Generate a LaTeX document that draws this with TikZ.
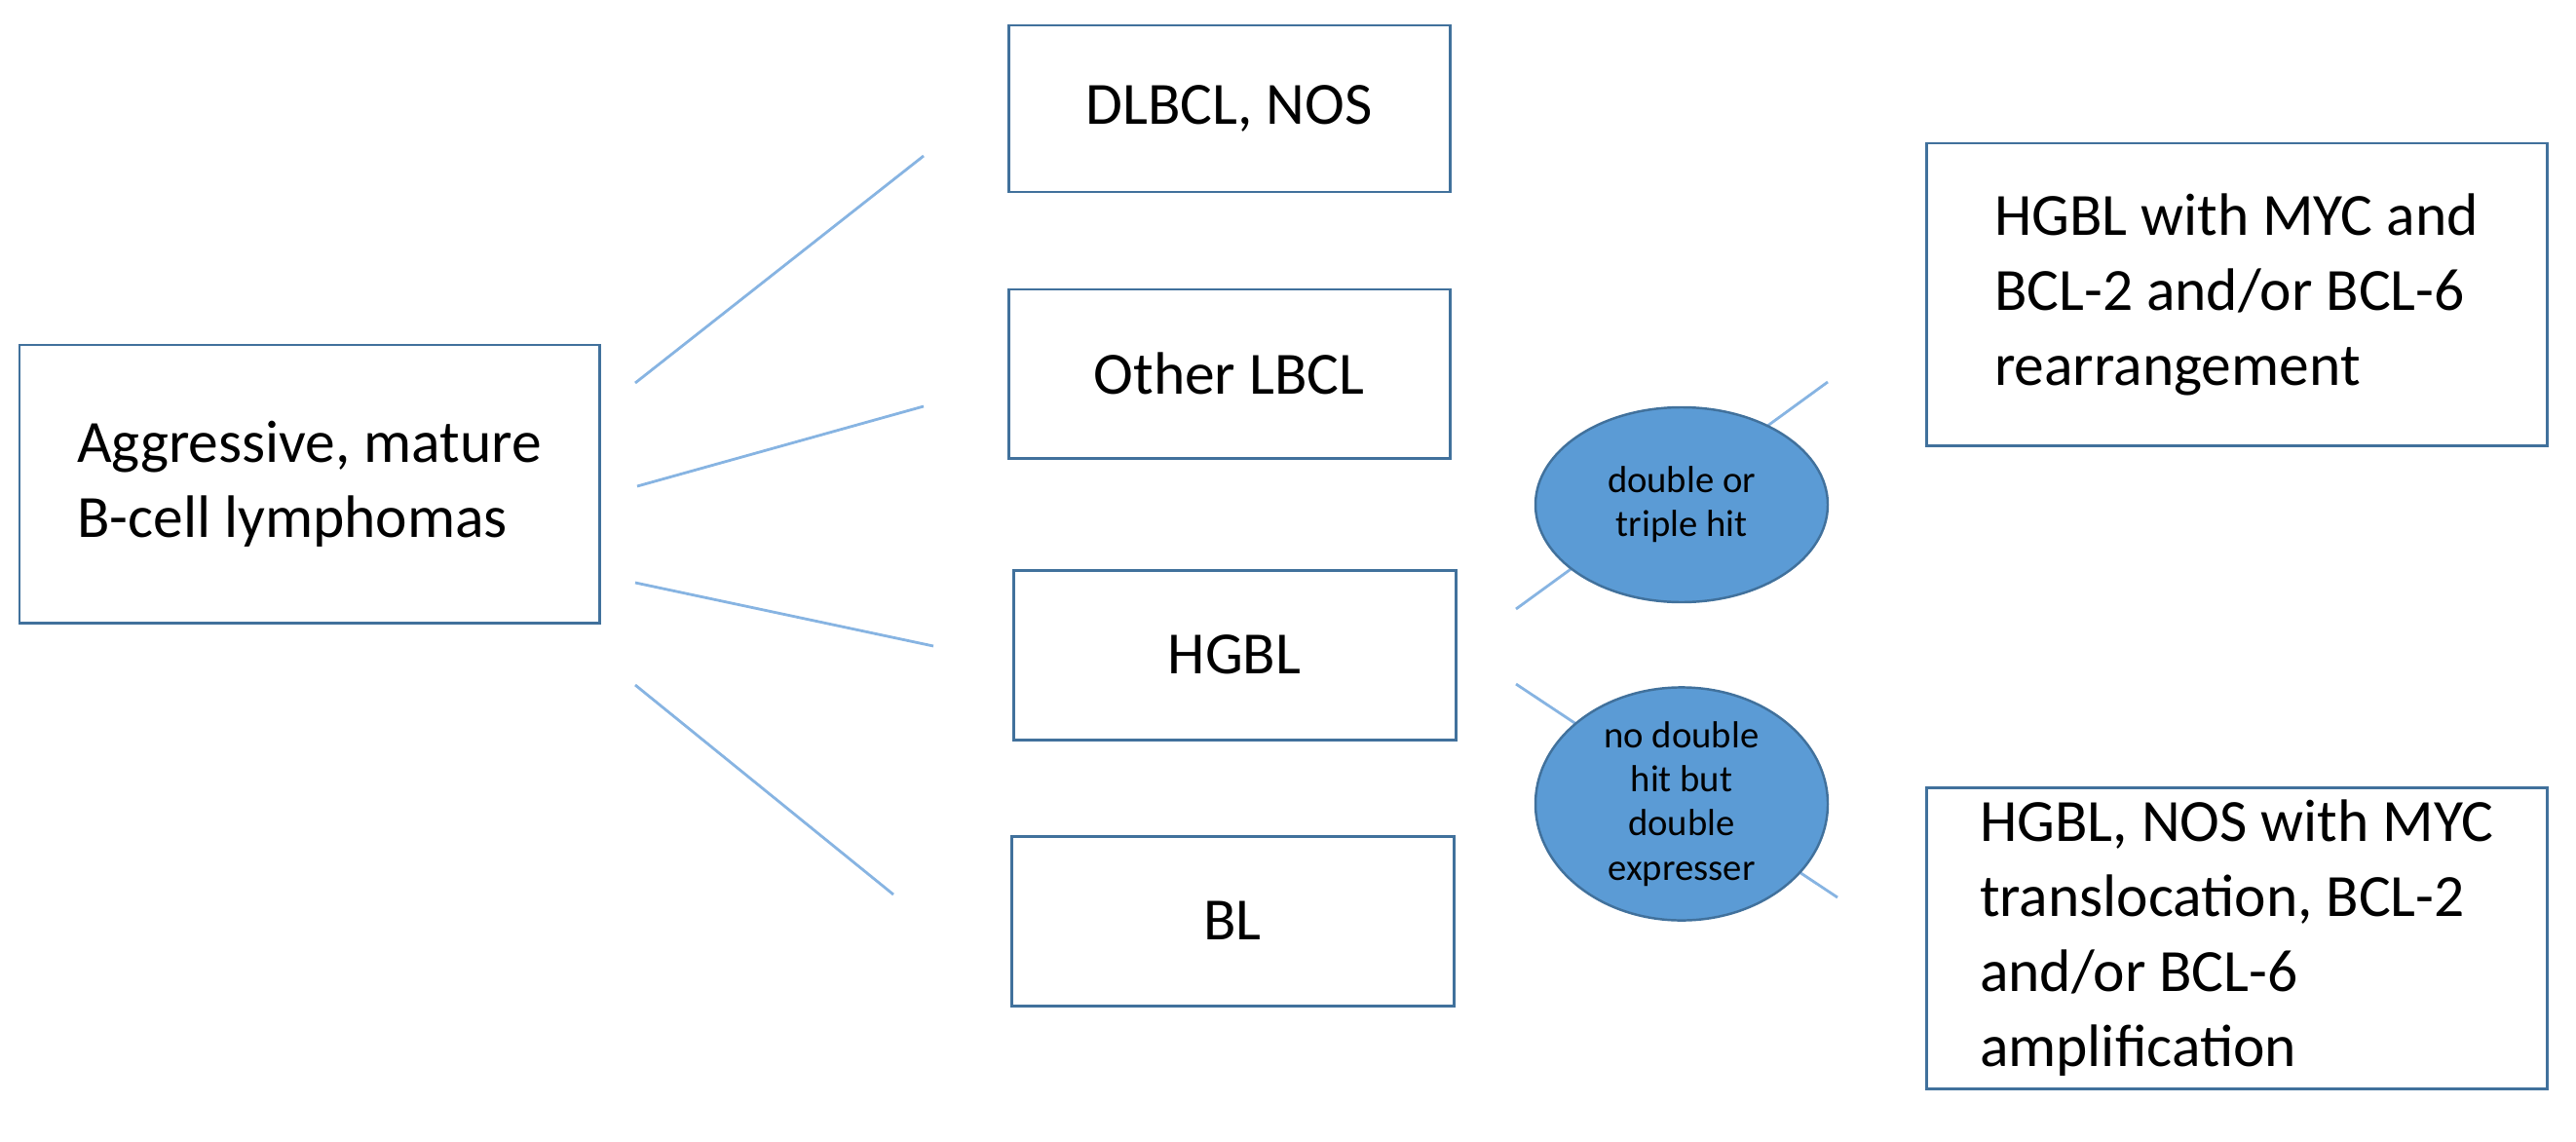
\documentclass[tikz,border=0pt]{standalone}
\usepackage{fontspec}
\setmainfont{Carlito}
\usepackage{tikz}
\usetikzlibrary{shapes.geometric}

\definecolor{boxline}{RGB}{65,113,156}
\definecolor{blobfill}{RGB}{91,155,213}
\definecolor{linkline}{RGB}{135,180,226}

\newcommand{\boxfont}{\fontsize{17.5}{21.9}\selectfont}
\newcommand{\blobfont}{\fontsize{11}{12.9}\selectfont}

\tikzset{
	box/.style		= {rectangle, draw = boxline, line width = 0.85pt, inner sep = 0pt, align = left, font = \boxfont},
	blob/.style		= {ellipse, draw = boxline, line width = 0.7pt, fill = blobfill, inner sep = 0pt,
						minimum width = 3cm, minimum height = 2cm, align = center, font = \blobfont},
	link/.style		= {draw = linkline, line width = 0.8pt}
}

\begin{document}
\begin{tikzpicture}
\useasboundingbox (0, 0) rectangle (26.44, -11.72);

\path	(3.175, -4.965)		node(aggressive)			[box, minimum width = 5.95cm, minimum height = 2.85cm]	{Aggressive, mature\\B-cell lymphomas}
		(12.615, -1.115)	node(dlbcl_nos)				[box, minimum width = 4.53cm, minimum height = 1.71cm]	{DLBCL, NOS}
		(12.615, -3.835)	node(other_lbcl)			[box, minimum width = 4.53cm, minimum height = 1.73cm]	{Other LBCL}
		(12.67, -6.72)		node(hgbl)					[box, minimum width = 4.54cm, minimum height = 1.74cm]	{HGBL}
		(12.65, -9.45)		node(bl)					[box, minimum width = 4.54cm, minimum height = 1.74cm]	{BL}
		(22.955, -3.02)		node(hgbl_rearrangement)	[box, minimum width = 6.37cm, minimum height = 3.10cm]	{HGBL with MYC and\\BCL-2 and/or BCL-6\\rearrangement}
		(22.955, -9.625)	node(hgbl_amplification)	[box, minimum width = 6.37cm, minimum height = 3.09cm]	{HGBL, NOS with MYC\\translocation, BCL-2\\and/or BCL-6\\amplification};

\path	(6.52, -3.93)	coordinate(to_dlbcl_a)		(9.48, -1.60)	coordinate(to_dlbcl_b)
		(6.54, -4.99)	coordinate(to_other_a)		(9.48, -4.17)	coordinate(to_other_b)
		(6.52, -5.98)	coordinate(to_hgbl_a)		(9.58, -6.63)	coordinate(to_hgbl_b)
		(6.52, -7.03)	coordinate(to_bl_a)			(9.17, -9.18)	coordinate(to_bl_b)
		(15.56, -6.25)	coordinate(to_double_a)		(18.76, -3.92)	coordinate(to_double_b)
		(15.56, -7.02)	coordinate(to_expresser_a)	(18.86, -9.21)	coordinate(to_expresser_b);

\draw[link]	(to_dlbcl_a)		--	(to_dlbcl_b);
\draw[link]	(to_other_a)		--	(to_other_b);
\draw[link]	(to_hgbl_a)			--	(to_hgbl_b);
\draw[link]	(to_bl_a)			--	(to_bl_b);
\draw[link]	(to_double_a)		--	(to_double_b);
\draw[link]	(to_expresser_a)	--	(to_expresser_b);

\path	(17.26, -5.18)	node(double_hit)		[blob]	{double or\\triple hit}
		(17.26, -8.25)	node(double_expresser)	[blob]	{no double\\hit but\\double\\expresser};
\end{tikzpicture}
\end{document}
